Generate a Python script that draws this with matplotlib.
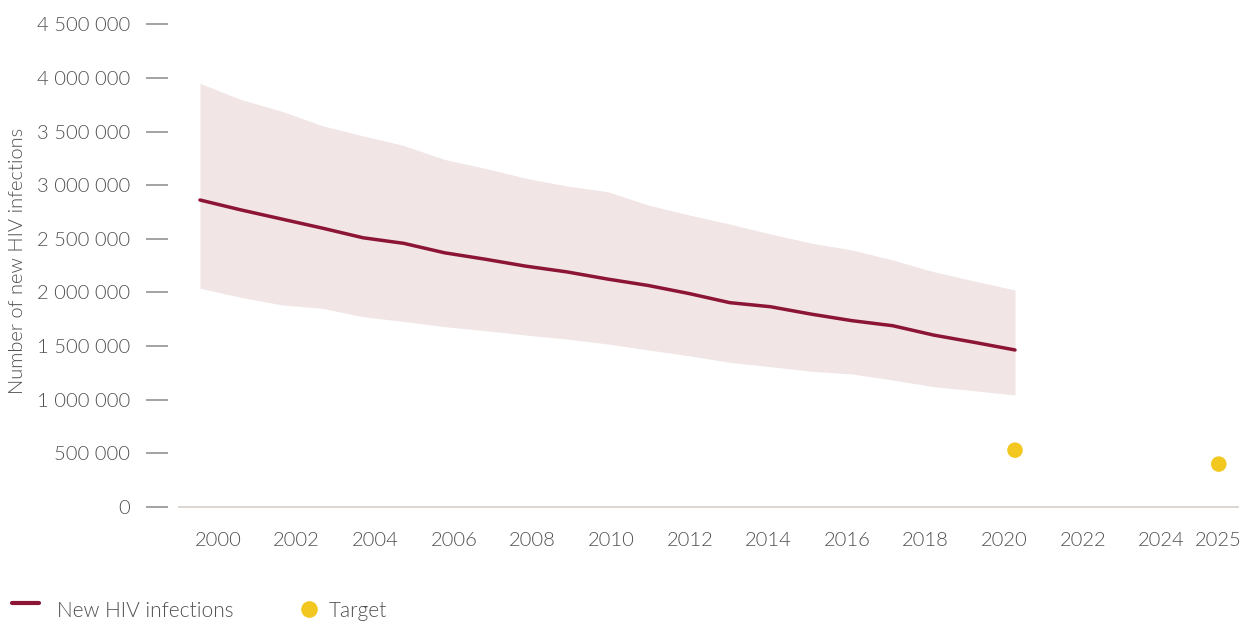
import matplotlib
matplotlib.use("Agg")
import matplotlib.pyplot as plt
from matplotlib.lines import Line2D
import numpy as np

# ---- data ----
years = list(range(2000, 2021))
new_infections = [2862000, 2770000, 2685000, 2600000, 2510000, 2458000, 2370000, 2310000,
                  2245000, 2192000, 2125000, 2065000, 1990000, 1905000, 1867000, 1798000,
                  1737000, 1690000, 1603000, 1535000, 1464000]
upper_bound = [3950000, 3800000, 3690000, 3555000, 3460000, 3370000, 3240000, 3157000,
               3065000, 2993000, 2940000, 2815000, 2722000, 2638000, 2545000, 2460000,
               2396000, 2303000, 2194000, 2107000, 2023000]
lower_bound = [2039000, 1955000, 1885000, 1852000, 1774000, 1730000, 1681000, 1644000,
               1603000, 1566000, 1520000, 1464000, 1410000, 1349000, 1308000, 1265000,
               1240000, 1184000, 1122000, 1084000, 1044000]
target_years = [2020, 2025]
target_values = [530000, 400000]
xtick_years = [2000, 2002, 2004, 2006, 2008, 2010, 2012, 2014, 2016, 2018, 2020, 2022, 2024, 2025]
ytick_values = [0, 500000, 1000000, 1500000, 2000000, 2500000, 3000000, 3500000, 4000000, 4500000]

# ---- style ----
FONT = ["Lato", "DejaVu Sans"]
plt.rcParams['font.family'] = FONT
plt.rcParams['font.weight'] = 300
TXT = "#505050"
LINE_C = "#8c1536"
BAND_C = "#f1e5e6"
TARGET_C = "#f2c71f"

W, H = 1243, 622
fig = plt.figure(figsize=(W / 100, H / 100), dpi=100)
ax = fig.add_axes([179 / W, 1 - 507 / H, (1238 - 179) / W, (507 - 24.3) / H])

ax.fill_between(years, lower_bound, upper_bound, color=BAND_C, linewidth=0, zorder=1)
ax.plot(years, new_infections, color=LINE_C, linewidth=2.5, solid_capstyle='round', zorder=3)
ax.scatter(target_years, target_values, s=125, color=TARGET_C, edgecolors='none', zorder=4)

x0 = 2000 - 21 / 40.75
x1 = 2000 + (1238 - 200) / 40.75
ax.set_xlim(x0, x1)
ax.set_ylim(0, 4500000)

# baseline
ax.axhline(0, color="#d6cecb", linewidth=1.2, zorder=2, clip_on=False)

for s in ['top', 'right', 'bottom']:
    ax.spines[s].set_visible(False)
ax.spines['left'].set_position(('outward', 8))
ax.spines['left'].set_visible(False)

ax.set_yticks(ytick_values)
ax.set_yticklabels([f"{v:,}".replace(",", " ") for v in ytick_values])
ax.tick_params(axis='y', direction='out', length=15.5, width=1.1, color="#8a8a8a",
               pad=11.5, labelsize=14.5, labelcolor=TXT)

# x tick labels positioned like reference
def label_pos(y):
    if y == 2025:
        return 2025.0
    return 2000.44 + (y - 2000) * 0.965

ax.set_xticks([label_pos(y) for y in xtick_years])
ax.set_xticklabels([str(y) for y in xtick_years])
ax.tick_params(axis='x', length=0, pad=18, labelsize=14.5, labelcolor=TXT)

fig.text(18 / W, 1 - 261 / H, "Number of new HIV infections", rotation=90,
         ha='center', va='center', fontsize=14.5, color=TXT)

# legend
fig.add_artist(Line2D([12 / W, 39 / W], [1 - 603 / H, 1 - 603 / H], color=LINE_C,
                      linewidth=3, solid_capstyle='round'))
fig.text(57 / W, 1 - 611 / H, "New HIV infections", ha='left', va='center',
         fontsize=15, color=TXT)
fig.add_artist(Line2D([309 / W], [1 - 609 / H], marker='o', markersize=12,
                      color=TARGET_C, markeredgewidth=0, linestyle='none'))
fig.text(329 / W, 1 - 611 / H, "Target", ha='left', va='center',
         fontsize=15, color=TXT)

fig.savefig("out.png", dpi=100)
